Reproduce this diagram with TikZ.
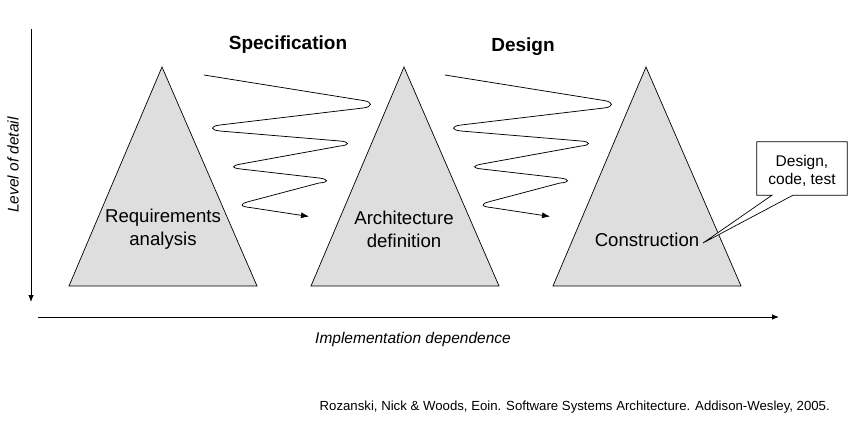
\documentclass[tikz,border=0pt]{standalone}
\usepackage{fontspec}
\setmainfont{Liberation Sans}
\usetikzlibrary{arrows.meta,calc}
\tikzset{
  tri/.style={draw=black, fill=black!13, line width=0.7pt, line join=miter},
  lbl/.style={align=center, font=\fontsize{18.6}{23}\selectfont, inner sep=0pt},
  ttl/.style={font=\fontsize{19}{22}\selectfont\bfseries, inner sep=0pt},
  axis/.style={line width=0.8pt, -{Latex[length=7pt,width=5.5pt]}},
  wave/.style={line width=0.75pt, -{Latex[length=8pt,width=6pt]}},
  axlbl/.style={font=\fontsize{15.5}{18}\selectfont\itshape, inner sep=0pt},
  callbox/.style={minimum width=90, minimum height=53, inner sep=0pt, align=center,
      font=\fontsize{15.5}{18}\selectfont},
}
\begin{document}
\begin{tikzpicture}[x=1pt,y=-1pt]
\useasboundingbox (0,0) rectangle (855,424);
% triangles
\draw[tri] (162,67) -- (257,286) -- (69,286) -- cycle;
\draw[tri] (404,67) -- (499,286) -- (311,286) -- cycle;
\draw[tri] (646,67) -- (741,286) -- (553,286) -- cycle;
\node[lbl] (req) at (163,229) {Requirements\\analysis};
\node[lbl] (arch) at (404,229) {Architecture\\definition};
\node[lbl] (cons) at (647,240) {Construction};
% titles
\node[ttl] (spec) at (288,45) {Specification};
\node[ttl] (des) at (523,47) {Design};
% spirals
\foreach \dx in {0,241}{
\begin{scope}[xshift=\dx]
\draw[wave] (204,75) -- (363,100.5)
  .. controls (373,102) and (373,106.8) .. (363,108)
  -- (220,125)
  .. controls (210,126.2) and (210,130) .. (220,131)
  -- (340,141)
  .. controls (350,141.8) and (350,145.2) .. (340,146)
  -- (241,164)
  .. controls (231,165.8) and (231,168) .. (241,169)
  -- (319,178)
  .. controls (329,179.2) and (329,182.4) .. (319,183)
  -- (249,201.5)
  .. controls (239,204) and (240,206.5) .. (250,207.5)
  -- (309,216.5);
\end{scope}}
% axes
\coordinate (vtop) at (31,29);
\coordinate (vbot) at (31,302);
\draw[axis] (vtop) -- (vbot);
\coordinate (hl) at (38,317);
\coordinate (hr) at (779,317);
\draw[axis] (hl) -- (hr);
\node[axlbl, rotate=90] (lod) at (13,165) {Level of detail};
\node[axlbl] (impl) at (413,339) {Implementation dependence};
% callout
\node[callbox] (call) at (802,168.5) {};
\coordinate (tip) at (703,243);
\draw[line width=0.7pt, fill=white] (call.north west) -- (call.north east) -- (call.south east)
  -- ([xshift=-9]call.south) -- (tip) -- ([xshift=-30]call.south) -- (call.south west) -- cycle;
\node[callbox] at ([yshift=-2]call.center) {Design,\\code, test};
% citation
\node[font=\fontsize{13.2}{15}\selectfont, anchor=east, inner sep=0pt] (cite) at (830,407)
  {Rozanski, Nick \& Woods, Eoin. Software Systems Architecture. Addison-Wesley, 2005.};
\end{tikzpicture}
\end{document}
